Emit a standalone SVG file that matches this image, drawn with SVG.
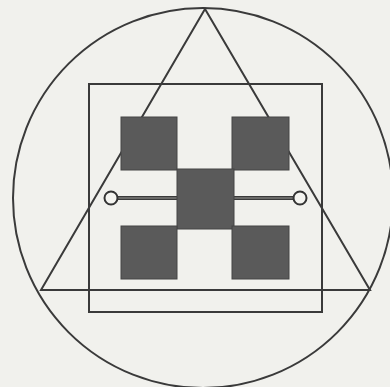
<svg xmlns="http://www.w3.org/2000/svg" width="390" height="387" viewBox="0 0 390 387">
<style>
.ln{fill:none;stroke:#3a3a3a;stroke-width:2}
.blk{fill:#5a5a5a;stroke:#444;stroke-width:1}
.end{fill:#f4f4f0;stroke:#333;stroke-width:2}
</style>
<rect width="390" height="387" fill="#f1f1ed"/>
<g id="circle"><circle class="ln" cx="203" cy="198" r="190"/></g>
<g id="triangle"><polygon class="ln" points="205,9 41,290 370,290" stroke-linejoin="miter"/></g>
<g id="square"><rect class="ln" x="89" y="84" width="233" height="228"/></g>
<g id="connectors">
<line x1="117" y1="198" x2="178" y2="198" stroke="#3a3a3a" stroke-width="4"/>
<line x1="117" y1="198" x2="178" y2="198" stroke="#9a9a96" stroke-width="1.2"/>
<line x1="233" y1="198" x2="294" y2="198" stroke="#3a3a3a" stroke-width="4"/>
<line x1="233" y1="198" x2="294" y2="198" stroke="#9a9a96" stroke-width="1.2"/>
</g>
<g id="end-left"><circle class="end" cx="111" cy="198" r="6.5"/></g>
<g id="end-right"><circle class="end" cx="300" cy="198" r="6.5"/></g>
<g id="sq-tl"><rect class="blk" x="121" y="117" width="56" height="53"/></g>
<g id="sq-tr"><rect class="blk" x="232" y="117" width="57" height="53"/></g>
<g id="sq-c"><rect class="blk" x="177" y="169" width="57" height="60"/></g>
<g id="sq-bl"><rect class="blk" x="121" y="226" width="56" height="53"/></g>
<g id="sq-br"><rect class="blk" x="232" y="226" width="57" height="53"/></g>
</svg>
